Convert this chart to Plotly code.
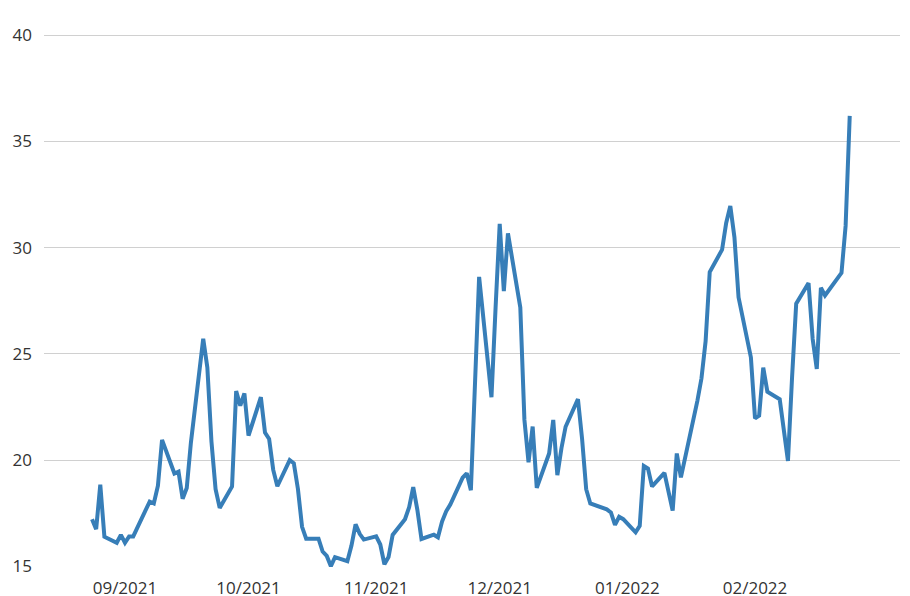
import plotly.graph_objects as go

dates = [
    "2021-08-24", "2021-08-25", "2021-08-26", "2021-08-27", "2021-08-30", "2021-08-31",
    "2021-09-01", "2021-09-02", "2021-09-03", "2021-09-07", "2021-09-08", "2021-09-09",
    "2021-09-10", "2021-09-13", "2021-09-14", "2021-09-15", "2021-09-16", "2021-09-17",
    "2021-09-20", "2021-09-21", "2021-09-22", "2021-09-23", "2021-09-24", "2021-09-27",
    "2021-09-28", "2021-09-29", "2021-09-30", "2021-10-01", "2021-10-04", "2021-10-05",
    "2021-10-06", "2021-10-07", "2021-10-08", "2021-10-11", "2021-10-12", "2021-10-13",
    "2021-10-14", "2021-10-15", "2021-10-18", "2021-10-19", "2021-10-20", "2021-10-21",
    "2021-10-22", "2021-10-25", "2021-10-26", "2021-10-27", "2021-10-28", "2021-10-29",
    "2021-11-01", "2021-11-02", "2021-11-03", "2021-11-04", "2021-11-05", "2021-11-08",
    "2021-11-09", "2021-11-10", "2021-11-11", "2021-11-12", "2021-11-15", "2021-11-16",
    "2021-11-17", "2021-11-18", "2021-11-19", "2021-11-22", "2021-11-23", "2021-11-24",
    "2021-11-26", "2021-11-29", "2021-11-30", "2021-12-01", "2021-12-02", "2021-12-03",
    "2021-12-06", "2021-12-07", "2021-12-08", "2021-12-09", "2021-12-10", "2021-12-13",
    "2021-12-14", "2021-12-15", "2021-12-16", "2021-12-17", "2021-12-20", "2021-12-21",
    "2021-12-22", "2021-12-23", "2021-12-27", "2021-12-28", "2021-12-29", "2021-12-30",
    "2021-12-31", "2022-01-03", "2022-01-04", "2022-01-05", "2022-01-06", "2022-01-07",
    "2022-01-10", "2022-01-11", "2022-01-12", "2022-01-13", "2022-01-14", "2022-01-18",
    "2022-01-19", "2022-01-20", "2022-01-21", "2022-01-24", "2022-01-25", "2022-01-26",
    "2022-01-27", "2022-01-28", "2022-01-31", "2022-02-01", "2022-02-02", "2022-02-03",
    "2022-02-04", "2022-02-07", "2022-02-08", "2022-02-09", "2022-02-10", "2022-02-11",
    "2022-02-14", "2022-02-15", "2022-02-16", "2022-02-17", "2022-02-18", "2022-02-22",
    "2022-02-23", "2022-02-24",
]

values = [
    17.22, 16.75, 18.84, 16.39, 16.11, 16.48,
    16.11, 16.41, 16.41, 18.05, 17.96, 18.80,
    20.95, 19.37, 19.46, 18.18, 18.69, 20.81,
    25.71, 24.36, 20.87, 18.63, 17.75, 18.76,
    23.25, 22.56, 23.14, 21.15, 22.96, 21.30,
    21.00, 19.54, 18.77, 20.00, 19.85, 18.64,
    16.86, 16.30, 16.30, 15.70, 15.49, 15.01,
    15.43, 15.24, 15.98, 16.98, 16.53, 16.26,
    16.41, 16.03, 15.10, 15.44, 16.48, 17.22,
    17.78, 18.73, 17.66, 16.29, 16.49, 16.37,
    17.11, 17.59, 17.91, 19.17, 19.38, 18.58,
    28.62, 22.96, 27.19, 31.12, 27.95, 30.67,
    27.18, 21.89, 19.90, 21.58, 18.69, 20.31,
    21.89, 19.29, 20.57, 21.57, 22.87, 21.01,
    18.63, 17.96, 17.68, 17.54, 16.95, 17.33,
    17.22, 16.60, 16.91, 19.73, 19.61, 18.76,
    19.40, 18.41, 17.62, 20.31, 19.19, 22.79,
    23.85, 25.59, 28.85, 29.90, 31.16, 31.96,
    30.49, 27.66, 24.83, 21.96, 22.09, 24.35,
    23.22, 22.86, 21.44, 19.96, 23.91, 27.36,
    28.33, 25.70, 24.29, 28.11, 27.75, 28.81,
    31.02, 36.20,
]

y_ticks = [15, 20, 25, 30, 35, 40]
x_ticks = ["2021-09-01", "2021-10-01", "2021-11-01", "2021-12-01", "2022-01-01", "2022-02-01"]
x_tick_labels = ["09/2021", "10/2021", "11/2021", "12/2021", "01/2022", "02/2022"]

fig = go.Figure()
fig.add_trace(go.Scatter(
    x=dates, y=values, mode="lines",
    line=dict(color="#377eb8", width=4),
    hoverinfo="x+y", showlegend=False, cliponaxis=False,
))

# The page body has an 8px offset, so margins are compensated for it.
fig.update_layout(
    width=910, height=596,
    margin=dict(l=36, r=18, t=26, b=37, autoexpand=False),
    paper_bgcolor="white", plot_bgcolor="white",
    font=dict(family="Open Sans", size=17, color="#333333"),
)
fig.update_xaxes(
    type="date",
    range=["2021-08-12 08:00", "2022-03-08 05:00"],
    tickmode="array", tickvals=x_ticks, ticktext=x_tick_labels,
    showgrid=False, zeroline=False, showline=False, ticks="",
    automargin=False, ticklabelstandoff=9,
)
fig.update_yaxes(
    range=[14.97, 40.05],
    tickmode="array", tickvals=y_ticks,
    showgrid=True, gridcolor="#d0d0d0", gridwidth=1,
    zeroline=False, showline=False, ticks="",
    automargin=False, ticklabelstandoff=11,
)

fig.write_html("out.html")
